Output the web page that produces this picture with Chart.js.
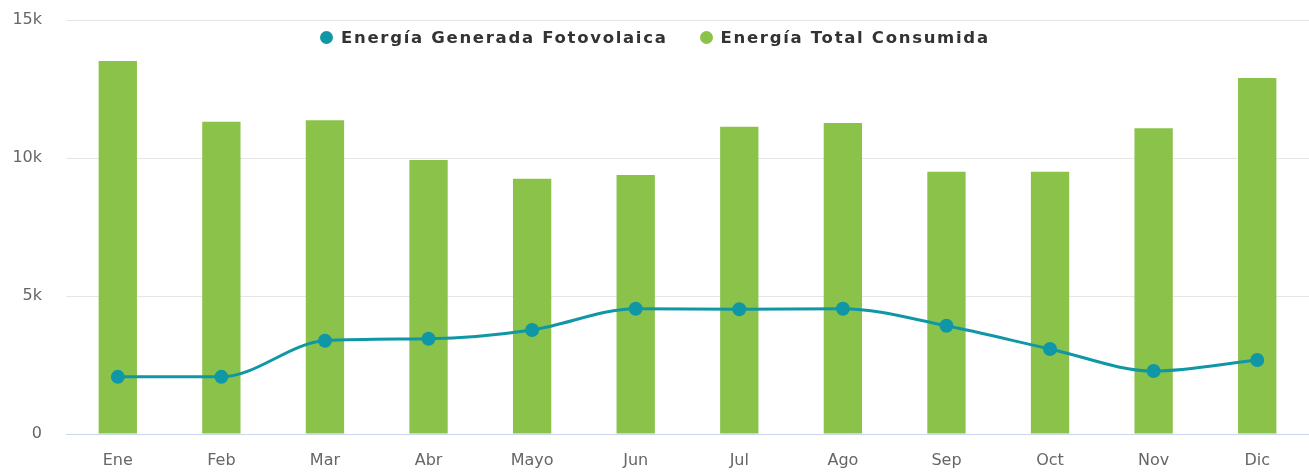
<!DOCTYPE html>
<html lang="es">
  <head>
    <meta charset="UTF-8" />
    <title>Energía mensual</title>
    <script src="https://cdn.jsdelivr.net/npm/chart.js"></script>
    <style>
      html,
      body {
        margin: 0;
        overflow: hidden;
        background: #ffffff;
        font-family: "DejaVu Sans", sans-serif;
      }
      .wrap {
        position: relative;
        width: 1309px;
        height: 472px;
        overflow: hidden;
      }
      canvas {
        display: block;
      }
      .legend {
        position: absolute;
        top: 28px;
        left: 320px;
        display: flex;
        gap: 32px;
        font-weight: bold;
        font-size: 16.5px;
        letter-spacing: 1.7px;
        color: #333333;
      }
      .legend span {
        display: flex;
        align-items: center;
      }
      .legend i {
        display: inline-block;
        width: 13px;
        height: 13px;
        border-radius: 50%;
        margin-right: 8px;
      }
    </style>
  </head>
  <body>
    <div class="wrap">
      <canvas id="energiaChart" width="1309" height="472"></canvas>
      <div class="legend">
        <span><i style="background: #1097a6"></i>Energía Generada Fotovolaica</span>
        <span><i style="background: #8bc34a"></i>Energía Total Consumida</span>
      </div>
    </div>

    <script>
      const meses = ["Ene", "Feb", "Mar", "Abr", "Mayo", "Jun", "Jul", "Ago", "Sep", "Oct", "Nov", "Dic"];
      const generada = [2070, 2070, 3380, 3450, 3770, 4540, 4520, 4540, 3920, 3080, 2280, 2680];
      const consumida = [13510, 11310, 11370, 9930, 9250, 9380, 11130, 11270, 9500, 9500, 11080, 12900];
      const yTicks = [0, 5000, 10000, 15000];

      const fuente = "'DejaVu Sans', sans-serif";

      const ctx = document.getElementById("energiaChart").getContext("2d");
      new Chart(ctx, {
        type: "bar",
        data: {
          labels: meses,
          datasets: [
            {
              type: "line",
              label: "Energía Generada Fotovolaica",
              data: generada,
              borderColor: "#1097a6",
              backgroundColor: "#1097a6",
              borderWidth: 3,
              pointRadius: 5.5,
              pointHoverRadius: 5.5,
              cubicInterpolationMode: "monotone",
              order: 0,
            },
            {
              label: "Energía Total Consumida",
              data: consumida,
              backgroundColor: "#8bc34a",
              barPercentage: 0.37,
              categoryPercentage: 1,
              order: 1,
            },
          ],
        },
        options: {
          responsive: false,
          animation: false,
          layout: {
            autoPadding: false,
            padding: { top: 20, right: 0, bottom: 0, left: 0 },
          },
          plugins: {
            legend: { display: false },
            tooltip: { enabled: false },
          },
          scales: {
            x: {
              afterFit: (axis) => {
                axis.height = 38;
                axis.paddingLeft = 0;
                axis.paddingRight = 0;
              },
              grid: { display: false, drawTicks: false },
              border: { color: "#ccd6eb", width: 1 },
              ticks: {
                color: "#666666",
                font: { family: fuente, size: 16 },
                padding: 17,
              },
            },
            y: {
              min: 0,
              max: 15000,
              afterBuildTicks: (axis) => {
                axis.ticks = yTicks.map((v) => ({ value: v }));
              },
              afterFit: (axis) => {
                axis.width = 66;
                axis.paddingTop = 0;
                axis.paddingBottom = 0;
              },
              grid: { color: "#e6e6e6", drawTicks: false },
              border: { display: false },
              ticks: {
                color: "#666666",
                font: { family: fuente, size: 16 },
                padding: 24,
                callback: (v) => (v === 0 ? "0" : v / 1000 + "k"),
              },
            },
          },
        },
      });
    </script>
  </body>
</html>
